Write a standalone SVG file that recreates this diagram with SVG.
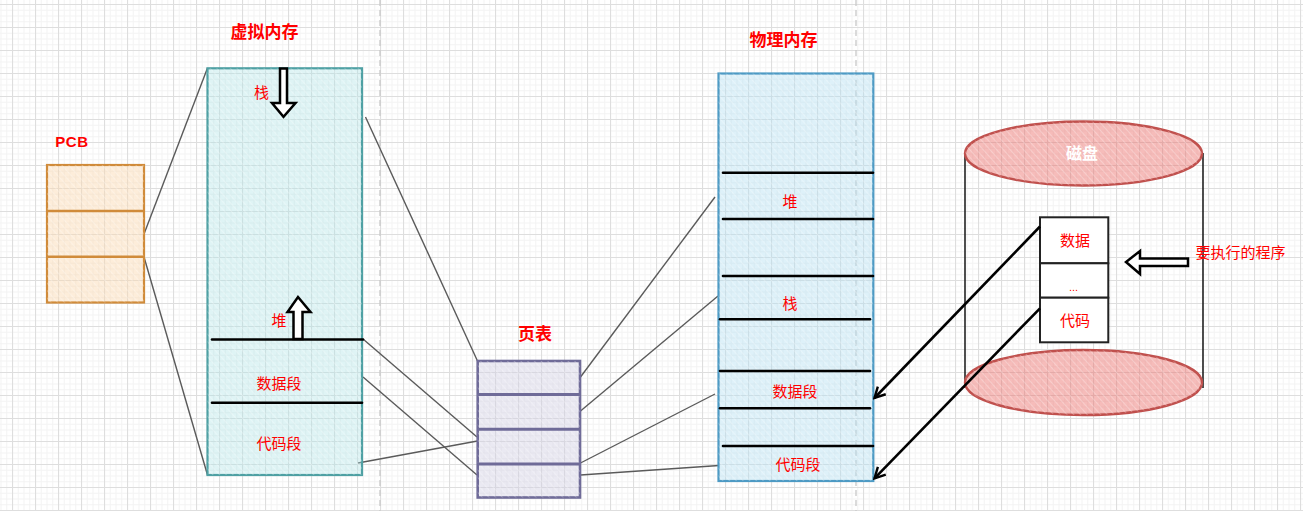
<svg xmlns="http://www.w3.org/2000/svg" width="1303" height="511" viewBox="0 0 1303 511">
<defs>
<style>
.t{font-family:"Liberation Sans","Noto Sans CJK SC",sans-serif;fill:#ff0000;text-anchor:middle;dominant-baseline:central}
.r{font-size:15px}
.b{font-size:17px;font-weight:bold}
.conn{stroke:#5a5a5a;stroke-width:1.4;fill:none}
.sep{stroke:#000;stroke-width:2.6;fill:none;stroke-linecap:round}
.harrow{fill:#fff;stroke:#000;stroke-width:2.5;stroke-linejoin:miter}
.dash{stroke:#c8c8c8;stroke-width:1.3;stroke-dasharray:6 4}
.disk-end{fill:#ea6b66;fill-opacity:0.45;stroke:#c0504d;stroke-width:2.4}
</style>
<pattern id="grid" x="12" y="4" width="23" height="23" patternUnits="userSpaceOnUse">
<path d="M6.25 0V23M12 0V23M17.75 0V23M0 6.25H23M0 12H23M0 17.75H23" stroke="#f3f3f3" stroke-width="1"/>
<path d="M0.5 0V23M0 0.5H23" stroke="#dedede" stroke-width="1.2"/>
</pattern>
<pattern id="hatch" width="5" height="5" patternUnits="userSpaceOnUse" patternTransform="rotate(-42)">
<line x1="0" y1="0" x2="0" y2="5" stroke="#ffffff" stroke-width="1.2" opacity="0.45"/>
</pattern>
<marker id="open-arrow" viewBox="0 0 14 14" refX="12" refY="7" markerWidth="14" markerHeight="14" markerUnits="userSpaceOnUse" orient="auto">
<path d="M1.5 1.5 L12 7 L1.5 12.5" fill="none" stroke="#000" stroke-width="2.4"/>
</marker>
</defs>

<rect width="1303" height="511" fill="#ffffff"/>
<rect width="1303" height="511" fill="url(#grid)"/>
<line class="dash" x1="380" y1="0" x2="380" y2="511"/>
<line class="dash" x1="856" y1="0" x2="856" y2="511"/>

<g id="connectors">
<line class="conn" x1="144" y1="234" x2="207.5" y2="68"/>
<line class="conn" x1="144" y1="257" x2="207.5" y2="475"/>
<line class="conn" x1="365.5" y1="117" x2="477.5" y2="361"/>
<line class="conn" x1="363" y1="339" x2="477" y2="437"/>
<line class="conn" x1="363" y1="377" x2="477" y2="475"/>
<line class="conn" x1="358" y1="463" x2="477.5" y2="441"/>
<line class="conn" x1="580.5" y1="377" x2="715" y2="197"/>
<line class="conn" x1="580.5" y1="411" x2="718" y2="296"/>
<line class="conn" x1="580.5" y1="463" x2="715" y2="394"/>
<line class="conn" x1="580.5" y1="475" x2="719" y2="465.5"/>
</g>

<g id="pcb">
<rect x="47" y="165" width="97" height="137.5" fill="#fad7ac" fill-opacity="0.45" stroke="#d08b3a" stroke-width="2.2"/>
<rect x="47" y="165" width="97" height="137.5" fill="url(#hatch)"/>
<line x1="47" y1="211" x2="144" y2="211" stroke="#d08b3a" stroke-width="2.6"/>
<line x1="47" y1="256.7" x2="144" y2="256.7" stroke="#d08b3a" stroke-width="2.6"/>
<text class="t" x="72" y="141.5" style="font-size:15px;font-weight:bold;letter-spacing:0.6px">PCB</text>
</g>

<g id="virtual-memory">
<text class="t b" x="264.5" y="32.5">虚拟内存</text>
<rect x="207.5" y="68.3" width="154.5" height="406.7" fill="#b0e3e6" fill-opacity="0.4" stroke="#4ea0a3" stroke-width="2.2"/>
<rect x="207.5" y="68.3" width="154.5" height="406.7" fill="url(#hatch)"/>
<polygon class="harrow" points="280,68.5 287,68.5 287,103 295.5,103 283.5,116.8 272,103 280,103"/>
<text class="t r" x="261.5" y="92.5">栈</text>
<polygon class="harrow" points="293.5,339 302.5,339 302.5,312 310.5,312 298,297 287.5,312 293.5,312"/>
<text class="t r" x="279" y="320">堆</text>
<line class="sep" x1="212" y1="339.5" x2="363" y2="339.5"/>
<text class="t r" x="279" y="383">数据段</text>
<line class="sep" x1="212" y1="402.7" x2="362" y2="402.7"/>
<text class="t r" x="279" y="443">代码段</text>
</g>

<g id="page-table">
<text class="t b" x="535" y="334.5">页表</text>
<rect x="477.7" y="361" width="102.3" height="136.5" fill="#d0cee2" fill-opacity="0.45" stroke="#6f6b98" stroke-width="2.6"/>
<rect x="477.7" y="361" width="102.3" height="136.5" fill="url(#hatch)"/>
<line x1="477.7" y1="394.5" x2="580" y2="394.5" stroke="#6f6b98" stroke-width="3"/>
<line x1="477.7" y1="429.3" x2="580" y2="429.3" stroke="#6f6b98" stroke-width="3"/>
<line x1="477.7" y1="464" x2="580" y2="464" stroke="#6f6b98" stroke-width="3"/>
</g>

<g id="physical-memory">
<text class="t b" x="783.5" y="40.5">物理内存</text>
<rect x="718.5" y="73.5" width="154.8" height="407.5" fill="#b1ddf0" fill-opacity="0.42" stroke="#4d9ac4" stroke-width="2.2"/>
<rect x="718.5" y="73.5" width="154.8" height="407.5" fill="url(#hatch)"/>
<line class="sep" x1="723" y1="172.7" x2="873" y2="172.7"/>
<line class="sep" x1="723" y1="219" x2="873" y2="219"/>
<text class="t r" x="790" y="201.5">堆</text>
<line class="sep" x1="723" y1="276" x2="873" y2="276"/>
<line class="sep" x1="720" y1="319.3" x2="870" y2="319.3"/>
<text class="t r" x="790" y="303">栈</text>
<line class="sep" x1="720" y1="371" x2="870" y2="371"/>
<line class="sep" x1="720" y1="408.3" x2="870" y2="408.3"/>
<text class="t r" x="795" y="391">数据段</text>
<line class="sep" x1="723" y1="446" x2="873" y2="446"/>
<text class="t r" x="798" y="464">代码段</text>
</g>

<g id="disk">
<line x1="965" y1="153" x2="965" y2="388" stroke="#222" stroke-width="1.6"/>
<line x1="1203" y1="153" x2="1203" y2="388" stroke="#222" stroke-width="1.6"/>
<ellipse class="disk-end" cx="1083.5" cy="382.5" rx="118.5" ry="32.5"/>
<ellipse cx="1083.5" cy="382.5" rx="118.5" ry="32.5" fill="url(#hatch)"/>
<ellipse class="disk-end" cx="1083.5" cy="153.5" rx="118.5" ry="32"/>
<ellipse cx="1083.5" cy="153.5" rx="118.5" ry="32" fill="url(#hatch)"/>
<text class="t" x="1082" y="153" style="font-size:16px;font-weight:bold;fill:#ffffff">磁盘</text>
<rect x="1040" y="217.3" width="68.3" height="46" fill="#fff" stroke="#222" stroke-width="2"/>
<rect x="1040" y="263.3" width="68.3" height="34.4" fill="#fff" stroke="#222" stroke-width="2"/>
<rect x="1040" y="297.7" width="68.3" height="44.6" fill="#fff" stroke="#222" stroke-width="2"/>
<text class="t r" x="1075" y="240">数据</text>
<text class="t" x="1073.5" y="287" style="font-size:11px">...</text>
<text class="t r" x="1075" y="320.5">代码</text>
</g>

<g id="program-label">
<polygon class="harrow" points="1188,258.5 1140,258.5 1140,251 1126,262 1140,274 1140,266 1188,266"/>
<text class="t r" x="1240.5" y="252">要执行的程序</text>
</g>

<g id="load-arrows">
<line x1="1040" y1="226.5" x2="874.5" y2="398" stroke="#000" stroke-width="2.6" marker-end="url(#open-arrow)"/>
<line x1="1040" y1="308.3" x2="874.5" y2="478.3" stroke="#000" stroke-width="2.6" marker-end="url(#open-arrow)"/>
</g>
</svg>
